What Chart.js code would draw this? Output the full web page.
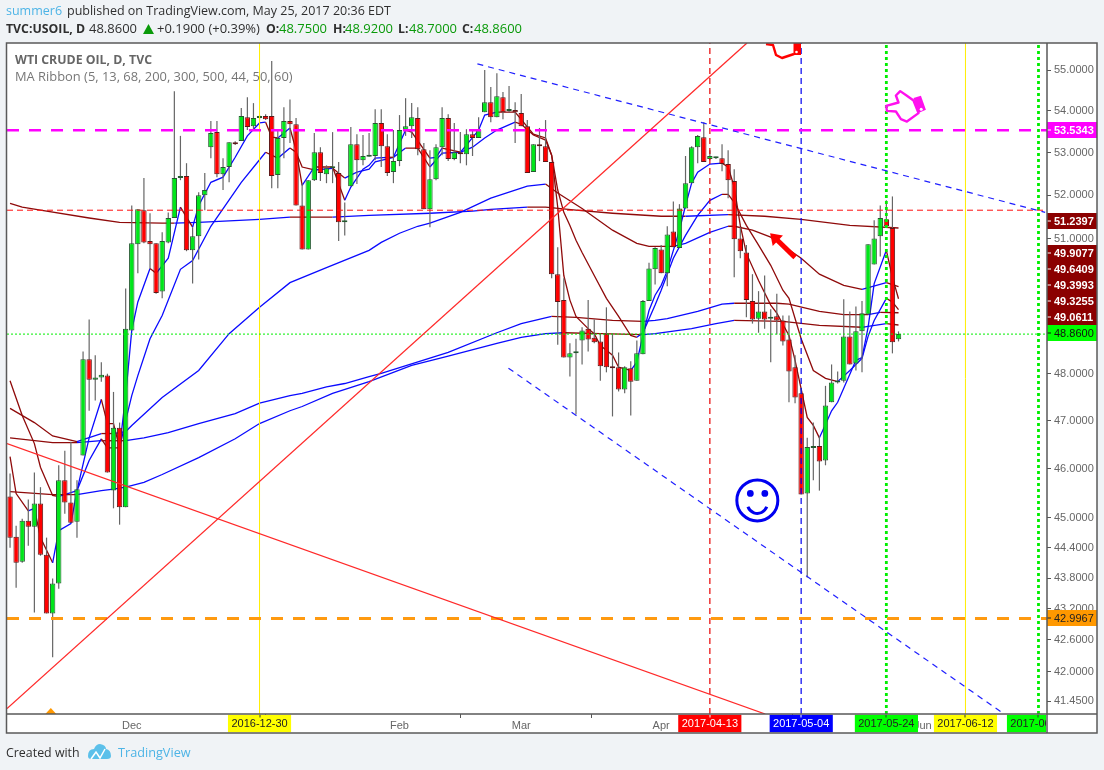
<!DOCTYPE html>
<html><head><meta charset="utf-8">
<style>html,body{margin:0;padding:0;background:#f0f3f6}canvas{display:block}</style>
<script src="https://cdn.jsdelivr.net/npm/chart.js@4"></script>
</head><body><canvas id="c" width="1104" height="770"></canvas>
<script>
// ---- OHLC ----
const opens=[45.43,44.62,44.12,44.94,44.82,45.29,44.26,43.11,43.69,45.76,45.31,44.92,46.27,48.31,47.87,47.92,47.96,45.55,46.85,45.21,48.94,50.87,51.65,50.94,50.89,49.80,50.91,51.47,52.40,52.45,50.73,51.05,52.00,53.13,53.49,52.49,52.66,53.25,53.28,53.85,53.63,53.83,53.88,53.88,52.47,53.35,53.76,53.68,51.76,50.75,52.35,53.01,52.49,52.63,52.52,51.37,52.21,53.20,52.82,52.90,52.92,53.71,53.15,52.54,52.80,53.54,53.63,53.83,53.08,51.67,52.37,53.13,53.83,52.85,53.01,52.96,53.44,53.35,53.97,54.21,53.85,54.33,54.00,54.02,53.95,53.63,52.54,53.20,53.15,52.78,50.19,49.61,48.35,48.44,48.72,48.98,48.78,48.70,48.87,48.14,48.14,47.66,48.12,47.85,48.42,49.59,50.30,50.75,50.21,51.16,50.78,51.69,52.28,53.13,53.37,52.85,52.87,52.87,52.73,52.33,51.00,50.68,49.59,49.20,49.36,49.20,49.25,49.16,48.74,48.14,47.58,45.49,46.43,46.47,46.17,47.39,47.81,47.85,48.81,48.22,48.92,49.29,50.41,51.05,51.44,51.24,48.75];
const highs=[45.90,44.84,44.98,45.37,45.92,45.62,44.60,43.79,46.07,46.37,46.56,45.76,48.48,49.18,48.40,48.25,48.00,47.61,46.96,49.87,51.76,51.67,52.40,51.58,50.89,51.14,51.60,54.48,53.40,52.75,51.26,52.07,52.52,53.76,53.76,52.87,53.25,53.27,54.07,54.33,54.19,53.90,53.92,55.22,53.54,54.09,54.28,53.83,52.28,52.35,53.47,53.13,52.70,53.49,52.78,51.83,53.61,53.44,53.42,53.47,54.04,54.04,53.44,53.54,53.90,54.31,54.19,54.09,53.23,53.06,53.20,54.09,53.92,53.71,53.49,53.56,53.54,53.85,55.00,54.58,54.92,54.46,54.61,54.21,54.41,53.78,53.20,53.59,53.78,52.78,50.80,50.10,48.66,48.76,49.01,49.61,49.18,48.87,49.45,48.87,48.46,48.16,48.27,48.72,49.61,50.45,50.80,50.85,51.28,51.85,51.79,52.92,53.15,53.42,53.73,53.06,52.90,53.20,53.06,52.61,51.26,50.85,50.19,49.81,50.16,49.41,49.75,49.27,49.27,48.40,47.70,46.64,46.96,46.68,47.74,48.20,48.05,49.63,49.36,49.47,49.59,50.87,51.42,51.76,51.88,51.97,48.92];
const lows=[44.40,43.61,44.10,44.44,43.13,44.24,43.11,42.27,43.59,45.08,44.90,44.60,46.27,47.21,47.43,47.83,45.92,45.19,44.86,45.21,48.94,50.21,50.89,50.32,49.75,49.65,50.89,51.47,52.35,50.71,49.98,50.52,51.65,52.87,52.42,52.12,52.30,53.18,53.28,53.54,53.54,53.80,53.78,52.16,52.16,52.87,53.23,51.76,50.75,50.75,52.33,52.33,52.28,52.28,50.94,51.07,52.21,52.26,52.70,52.90,52.82,52.66,52.45,52.28,52.68,53.40,53.35,52.94,51.67,51.26,52.35,52.94,52.80,52.82,52.75,52.70,52.92,53.35,53.97,53.73,53.85,53.80,53.97,53.23,53.63,52.52,52.54,52.80,52.78,50.10,48.63,48.35,47.94,47.13,48.20,48.48,48.66,47.85,48.03,47.09,47.62,47.58,47.11,47.85,48.42,49.59,49.96,50.21,49.92,50.80,50.78,51.69,52.28,52.75,52.78,52.82,52.85,52.56,51.93,50.12,50.55,49.23,49.09,48.89,48.98,48.25,48.85,48.61,47.39,47.37,45.47,43.81,45.76,45.55,46.07,47.39,47.79,47.81,48.20,48.07,48.03,49.29,50.41,50.59,51.28,48.44,48.70];
const closes=[44.60,44.10,44.94,44.82,45.29,44.26,43.11,43.69,45.76,45.31,44.90,45.58,48.31,47.87,47.92,47.98,45.92,46.85,45.21,48.98,50.89,51.67,50.91,50.87,49.77,50.94,51.47,52.40,52.45,50.73,51.05,52.00,52.12,53.47,52.49,52.66,53.25,53.20,53.88,53.61,53.83,53.88,53.80,52.45,53.35,53.76,53.68,51.76,50.75,52.35,53.01,52.52,52.63,52.66,51.37,51.40,53.20,52.82,52.92,52.92,53.71,53.15,52.52,52.80,53.54,53.63,53.85,53.08,51.67,52.37,53.13,53.83,52.85,53.01,52.96,53.44,53.35,53.54,54.21,53.85,54.36,53.97,54.02,53.97,53.63,52.52,53.20,53.15,52.78,50.19,49.57,48.35,48.44,48.48,48.94,48.74,48.68,48.16,48.14,48.12,47.66,48.14,47.83,48.44,49.59,50.32,50.78,50.21,51.09,50.80,51.69,52.28,53.13,53.40,52.78,52.92,52.89,52.73,52.35,50.98,50.71,49.61,49.18,49.36,49.18,49.22,49.16,48.70,48.05,47.49,45.47,46.45,46.47,46.15,47.32,47.81,47.83,48.81,48.20,48.92,49.32,50.87,51.00,51.47,51.28,48.68,48.86];

// ---- moving averages: bar index and value at the points read ----
const ma5Idx=[0,1,3,4,5,7,8,10,11,13,15,16,17,18,19,20,21,23,24,26,28,30,31,33,35,37,39,41,42,43,44,46,47,48,50,53,55,56,58,59,60,62,63,65,66,69,70,71,74,75,77,78,80,83,86,88,89,90,91,92,93,95,96,97,98,99,100,102,103,104,105,106,107,108,109,110,111,112,113,115,117,118,119,120,121,123,125,126,128,129,131,132,133,134,135,136,139,140,141,142,144,145,146];
const ma5Val=[46.25,45.49,45.14,45.19,44.60,44.10,44.74,44.88,45.55,46.64,47.45,46.94,46.94,46.43,47.53,48.94,49.57,50.32,50.21,50.55,51.72,51.26,51.76,52.30,52.42,52.89,53.40,53.71,53.73,53.37,53.35,53.59,53.06,52.23,52.66,52.66,51.88,52.19,52.61,52.70,52.87,52.89,52.89,53.54,53.49,52.87,52.89,53.11,53.01,53.18,53.54,53.90,53.97,53.97,53.44,53.35,52.94,51.72,50.16,49.61,49.25,48.98,48.87,48.61,48.51,48.40,48.14,48.07,48.25,48.83,49.38,49.72,49.94,50.27,50.73,51.19,51.76,52.28,52.54,52.73,52.75,52.66,52.19,51.30,50.66,50.05,49.50,49.32,48.83,48.29,47.07,46.90,46.64,46.92,47.21,47.39,48.29,48.35,49.01,49.98,50.73,50.12,49.64];
const ma13Idx=[0,2,4,5,7,8,11,13,15,16,17,18,19,20,21,23,25,28,30,33,38,42,44,46,47,48,50,53,55,57,59,60,63,65,67,69,71,74,76,78,80,83,84,86,88,89,90,91,92,93,94,96,98,100,102,103,104,106,107,109,111,113,115,117,118,119,121,123,125,127,128,130,132,134,136,138,140,141,142,144,145,146];
const ma13Val=[47.85,47.11,46.52,46.03,45.45,45.43,45.55,46.17,46.62,46.43,46.43,46.43,47.00,47.53,47.96,48.76,49.27,50.30,50.50,51.28,52.30,53.01,52.87,53.11,53.01,52.66,52.59,52.63,52.40,52.54,52.61,52.78,52.89,53.11,53.11,52.66,52.99,53.01,53.13,53.35,53.54,53.73,53.68,53.42,53.30,52.94,52.12,51.60,51.30,50.96,50.68,50.16,49.65,49.25,48.83,48.79,48.89,49.50,49.83,50.55,51.07,51.53,51.88,52.02,52.02,51.83,51.30,50.85,50.39,49.83,49.65,48.76,48.07,47.90,47.83,48.07,48.33,48.81,49.16,49.65,49.57,49.40];
const ma44Idx=[0,4,7,11,15,17,19,20,25,31,36,41,46,52,59,61,64,67,69,74,79,85,88,90,94,99,103,105,109,111,115,118,119,122,125,130,133,137,140,144,146];
const ma44Val=[47.26,46.96,46.68,46.56,46.73,46.73,46.77,46.90,47.49,48.07,48.87,49.45,50.00,50.34,50.73,50.91,51.12,51.28,51.35,51.60,51.93,52.21,52.26,52.05,51.69,51.19,50.89,50.82,50.82,50.89,51.14,51.28,51.28,51.19,51.03,50.55,50.19,49.94,49.85,50.00,49.91];
const ma68Idx=[0,2,5,13,18,25,27,31,41,46,53,59,69,76,79,85,88,93,99,107,111,118,124,130,138,146];
const ma68Val=[51.81,51.72,51.65,51.47,51.37,51.35,51.35,51.37,51.44,51.49,51.49,51.53,51.58,51.63,51.67,51.72,51.72,51.65,51.58,51.51,51.51,51.55,51.51,51.44,51.30,51.24];
const ma200Idx=[0,7,11,15,19,22,26,31,37,41,46,48,52,55,59,61,72,80,84,89,93,99,104,106,108,113,117,119,126,128,133,137,141,143,146];
const ma200Val=[46.64,46.54,46.54,46.58,46.58,46.64,46.75,46.94,47.15,47.37,47.53,47.58,47.72,47.79,47.94,48.01,48.46,48.89,49.09,49.25,49.23,49.16,49.14,49.16,49.20,49.36,49.52,49.54,49.54,49.52,49.36,49.29,49.29,49.34,49.33];
const ma300Idx=[0,7,11,15,17,19,22,25,31,37,41,46,48,53,59,66,72,80,84,88,91,97,104,106,112,116,119,127,133,140,141,144,146];
const ma300Val=[45.53,45.47,45.47,45.55,45.58,45.62,45.72,45.88,46.23,46.62,46.94,47.21,47.30,47.58,47.83,48.18,48.38,48.66,48.79,48.87,48.89,48.87,48.85,48.87,48.98,49.09,49.16,49.14,49.05,49.01,49.03,49.09,49.06];
const maNames=['5','13','44','68','200','300'];

// ---- drawings ----
const levelPrices=[53.5343,51.65,48.86,43.01];
const verticalIdx=[41,115,130,144,157,169];
const upTrendIdx=[-0.5,121.1], upTrendVal=[41.31,55.67];
const downTrendIdx=[-0.5,124.1], downTrendVal=[46.52,41.21];
const wedgeTopIdx=[76.8,170.1], wedgeTopVal=[55.15,51.60];
const wedgeLowIdx=[81.9,163.1], wedgeLowVal=[48.12,41.23];
const arrowIdx=[129,124.9], arrowVal=[50.57,51.12];

// ---- axes and labels ----
const yTicks=[55,54,53,52,51,50,49,48,47,46,45,44.4,43.8,43.2,42.6,42,41.45];
const xTickIdx=[20,64,84,107,150];
const xTickLabels=['Dec','Feb','Mar','Apr','Jun'];
const dateChipIdx=[41,115,130,144,157,169];
const dateChipLabels=['2016-12-30','2017-04-13','2017-05-04','2017-05-24','2017-06-12','2017-06-30'];
const priceChipVals=[53.5343,51.2397,49.9077,49.6409,49.3993,49.3255,49.0611,48.86,42.9967];

// ---- styles ----
const UI='"Open Sans",sans-serif', AX='"Liberation Sans",Arial,sans-serif';
const RISE='#0a0aff', FALL='#8f0a0a', UP='#00e61a', DOWN='#ff0000';
const dateChipStyle=[['#ffff00','#222'],['#ff0000','#fff'],['#0000ff','#fff'],['#00ff00','#222'],['#ffff00','#222'],['#00ff00','#222']];
const priceChipStyle=[['#ff00ff','#fff',130],['#8b0000','#fff',221],['#8b0000','#fff',253],['#8b0000','#fff',269],['#8b0000','#fff',285],['#8b0000','#fff',301],['#8b0000','#fff',317],['#00ff00','#111',333],['#ff9800','#222',618]];
const XMIN=-0.5,XMAX=170.4;

const barIdx=opens.map((_,i)=>i);
const pts=(xs,ys)=>xs.map((x,i)=>({x,y:ys[i]}));
const maDs=(xs,ys,i)=>({type:'line',label:'MA '+maNames[i],data:pts(xs,ys),borderWidth:1.3,pointRadius:0,tension:0,order:5,
  borderColor:RISE,segment:{borderColor:c=>c.p1.parsed.y>c.p0.parsed.y?RISE:FALL}});
const drawDs=(data,color,w,dash,label)=>({type:'line',label,data,borderColor:color,borderWidth:w,borderDash:dash,pointRadius:0,tension:0,order:1});

const datasets=[
 {type:'bar',label:'wick',data:barIdx.map(i=>({x:i,y:[lows[i],highs[i]]})),backgroundColor:'#666',barThickness:1.2,grouped:false,order:4,borderWidth:0,inflateAmount:0},
 {type:'bar',label:'body',data:barIdx.map(i=>({x:i,y:[opens[i],closes[i]]})),
  backgroundColor:barIdx.map(i=>closes[i]>=opens[i]?UP:DOWN),
  borderColor:barIdx.map(i=>closes[i]>=opens[i]?'#245a30':'#5e1818'),
  borderWidth:1,borderSkipped:false,barThickness:5.4,minBarLength:2,grouped:false,order:3,inflateAmount:0},
 maDs(ma5Idx,ma5Val,0),maDs(ma13Idx,ma13Val,1),maDs(ma44Idx,ma44Val,2),maDs(ma68Idx,ma68Val,3),maDs(ma200Idx,ma200Val,4),maDs(ma300Idx,ma300Val,5),
 drawDs(pts(upTrendIdx,upTrendVal),'#ff2a2a',1.3,[],'up'),
 drawDs(pts(downTrendIdx,downTrendVal),'#ff2a2a',1.3,[],'down'),
 drawDs(pts(wedgeTopIdx,wedgeTopVal),'#1f1fff',1.2,[6,5],'wedgeTop'),
 drawDs(pts(wedgeLowIdx,wedgeLowVal),'#1f1fff',1.2,[6,5],'wedgeLow'),
 drawDs([{x:XMIN,y:levelPrices[0]},{x:XMAX,y:levelPrices[0]}],'#ff00ff',2.5,[12,10],'level'),
 drawDs([{x:XMIN,y:levelPrices[1]},{x:XMAX,y:levelPrices[1]}],'#ff1010',1,[6,4],'level'),
 drawDs([{x:XMIN,y:levelPrices[2]},{x:XMAX,y:levelPrices[2]}],'#00ee00',1,[2,2],'level'),
 drawDs([{x:XMIN,y:levelPrices[3]},{x:XMAX,y:levelPrices[3]}],'#ff9a10',3,[12,10],'level'),
 drawDs([{x:verticalIdx[0],y:41.21},{x:verticalIdx[0],y:55.67}],'#ffee00',1,[],'v'),
 drawDs([{x:verticalIdx[1],y:41.21},{x:verticalIdx[1],y:55.67}],'#e80000',1.2,[6,4],'v'),
 drawDs([{x:verticalIdx[2],y:41.21},{x:verticalIdx[2],y:55.67}],'#0000f0',1.2,[6,4],'v'),
 drawDs([{x:verticalIdx[3],y:41.21},{x:verticalIdx[3],y:55.67}],'#00ee00',2.8,[3,3],'v'),
 drawDs([{x:verticalIdx[4],y:41.21},{x:verticalIdx[4],y:55.67}],'#ffee00',1,[],'v'),
 drawDs([{x:verticalIdx[5],y:41.21},{x:verticalIdx[5],y:55.67}],'#00ee00',2.8,[3,3],'v')
];

function hand(ctx,cx,cy,col){
  ctx.save();ctx.translate(cx,cy);ctx.strokeStyle=col;ctx.fillStyle=col;ctx.lineWidth=2.4;ctx.lineJoin='round';
  const P=[[-19,-1],[-6.7,-4.3],[-9.3,-11.3],[-5,-15.7],[1.7,-11],[8.3,-6.3],[13.3,6.3],[1.7,14.7],[-4.3,12.3],[-9.3,4.7],[-18.3,4]];
  ctx.beginPath();P.forEach((p,i)=>i?ctx.lineTo(p[0],p[1]):ctx.moveTo(p[0],p[1]));ctx.closePath();ctx.stroke();
  ctx.beginPath();[[8.3,-8.7],[15.7,-11],[20.7,3],[13.3,6.3]].forEach((p,i)=>i?ctx.lineTo(p[0],p[1]):ctx.moveTo(p[0],p[1]));ctx.closePath();ctx.fill();
  ctx.fillStyle='#fff';ctx.beginPath();ctx.arc(16,2.5,1.5,0,7);ctx.fill();ctx.restore();
}
function txt(ctx,s,x,y,font,col,al){ctx.font=font;ctx.fillStyle=col;ctx.textAlign=al||'left';ctx.textBaseline='middle';ctx.fillText(s,x,y);}

const page={id:'page',
 beforeDraw(ch){const c=ch.ctx;c.save();c.fillStyle='#f0f3f6';c.fillRect(0,0,1104,770);c.fillStyle='#fff';c.fillRect(6.5,43,1090.5,690);c.restore();},
 afterDatasetsDraw(ch){
  const c=ch.ctx,X=ch.scales.x,Y=ch.scales.y,a=ch.chartArea;
  c.save();c.beginPath();c.rect(a.left,a.top,a.right-a.left,a.bottom-a.top);c.clip();
  // red arrow
  const tx=X.getPixelForValue(arrowIdx[0]),ty=Y.getPixelForValue(arrowVal[0]),hx=X.getPixelForValue(arrowIdx[1]),hy=Y.getPixelForValue(arrowVal[1]);
  const ang=Math.atan2(hy-ty,hx-tx);
  c.strokeStyle='#ff0000';c.fillStyle='#ff0000';c.lineWidth=5;c.beginPath();c.moveTo(tx,ty);c.lineTo(hx-8*Math.cos(ang),hy-8*Math.sin(ang));c.stroke();
  c.beginPath();c.moveTo(hx,hy);c.lineTo(hx-13*Math.cos(ang-.6),hy-13*Math.sin(ang-.6));c.lineTo(hx-13*Math.cos(ang+.6),hy-13*Math.sin(ang+.6));c.closePath();c.fill();
  // smiley
  const sx=X.getPixelForValue(122.8),sy=Y.getPixelForValue(45.35);
  c.strokeStyle='#0000f0';c.fillStyle='#0000f0';c.lineWidth=3;c.beginPath();c.arc(sx,sy,20.5,0,7);c.stroke();
  c.beginPath();c.arc(sx-7,sy-7,3.4,0,7);c.arc(sx+7.5,sy-7,3.4,0,7);c.fill();
  c.beginPath();c.arc(sx,sy+3,10,.35,Math.PI-.35);c.stroke();
  // hands
  hand(c,X.getPixelForValue(147.1),Y.getPixelForValue(54.1),'#ff10ee');
  c.strokeStyle='#ff0000';c.lineWidth=2.4;c.lineJoin='round';c.beginPath();c.moveTo(766,44);c.lineTo(773,45);c.lineTo(776,55);c.lineTo(782,58);c.lineTo(794,54);c.stroke();
  c.fillStyle='#ff0000';c.fillRect(793.5,43,7.5,12);c.fillStyle='#fff';c.beginPath();c.arc(796.5,52,1.3,0,7);c.fill();
  // orange marker
  const mx=X.getPixelForValue(6.7),my=a.bottom;
  c.fillStyle='#ff9800';c.beginPath();c.moveTo(mx,my-6);c.lineTo(mx+5.5,my);c.lineTo(mx-5.5,my);c.closePath();c.fill();
  c.restore();
 },
 afterDraw(ch){
  const c=ch.ctx,X=ch.scales.x,a=ch.chartArea;c.save();
  // date chips
  dateChipIdx.forEach((v,i)=>{const x=X.getPixelForValue(v),w=63.5;let l=x-w/2,r=x+w/2;if(r>a.right)r=a.right-1;
    c.save();c.beginPath();c.rect(l,714.5,r-l,18);c.clip();c.fillStyle=dateChipStyle[i][0];c.fillRect(l,714.5,w,18);
    txt(c,dateChipLabels[i],x,724,'11px '+AX,dateChipStyle[i][1],'center');c.fillStyle=dateChipStyle[i][1]=='#fff'?'#fff':'#333';c.fillRect(Math.round(x)-.5,714.5,1,3);c.restore();});
  // price chips
  priceChipVals.forEach((v,i)=>{const [bg,fg,y]=priceChipStyle[i];c.fillStyle=bg;c.fillRect(1047,y-8,50,16);
    c.fillStyle=fg;c.fillRect(1047,y-.5,4,1);txt(c,v.toFixed(4),1054,y+.5,(fg=='#fff'?'bold ':'')+'11px '+AX,fg);});
  // frame
  c.strokeStyle='#5a5a5a';c.lineWidth=1.5;c.strokeRect(6.5,43,1090.5,690);
  c.beginPath();c.moveTo(1047,43);c.lineTo(1047,733);c.moveTo(6.5,714);c.lineTo(1097,714);c.stroke();
  // headers
  const L='12.5px '+UI,F='13px '+UI,B='bold 12.3px '+UI,D='#2f2f2f',G='#0a9a0a';
  txt(c,'summer6',6,11,L,'#4db4e6');txt(c,'published on TradingView.com, May 25, 2017 20:36 EDT',67,11,L,D);
  txt(c,'TVC:USOIL, D',6,29,B,D);txt(c,'48.8600',89,29,F,D);
  c.fillStyle='#0a9a0a';c.beginPath();c.moveTo(148.5,24);c.lineTo(154,34);c.lineTo(143,34);c.closePath();c.fill();
  txt(c,'+0.1900 (+0.39%)',157,29,F,D);
  [['O:','48.7500',266,279],['H:','48.9200',333,345],['L:','48.7000',398,409],['C:','48.8600',462,474]].forEach(p=>{txt(c,p[0],p[2],29,B,D);txt(c,p[1],p[3],29,F,G);});
  txt(c,'WTI CRUDE OIL, D, TVC',15,60,'bold 12.3px '+UI,'#666');
  txt(c,'MA Ribbon (5, 13, 68, 200, 300, 500, 44, 50, 60)',15,77,'12.9px '+UI,'#777');
  txt(c,'Created with',6,753,'12.4px '+UI,D);txt(c,'TradingView',118,753,'12.7px '+UI,'#4db4e6');
  // logo
  c.fillStyle='#5cc0ea';c.beginPath();c.moveTo(88,756);c.quadraticCurveTo(88,749,94,749);c.quadraticCurveTo(96,744,100,744);c.quadraticCurveTo(106,745,106,749);c.quadraticCurveTo(111,750,111,756);c.quadraticCurveTo(111,759,107,759);c.lineTo(91,759);c.quadraticCurveTo(88,759,88,756);c.fill();
  c.strokeStyle='#fff';c.lineWidth=1.5;c.beginPath();c.moveTo(91,759);c.lineTo(96,752);c.lineTo(100,758);c.lineTo(105,749);c.stroke();
  c.restore();
 }};

new Chart(document.getElementById('c'),{
 data:{datasets},
 plugins:[page],
 options:{responsive:false,animation:false,devicePixelRatio:1,
  layout:{padding:{left:7,top:43,right:0,bottom:0}},
  plugins:{legend:{display:false},tooltip:{enabled:false},title:{display:false}},
  scales:{
   x:{type:'linear',min:XMIN,max:XMAX,position:'bottom',offset:false,
      afterBuildTicks:s=>{s.ticks=xTickIdx.map(v=>({value:v}));},
      afterFit:s=>{s.height=56;},
      grid:{drawOnChartArea:false,drawTicks:true,tickLength:4,color:'#555'},border:{display:false},
      ticks:{autoSkip:false,maxRotation:0,padding:1,color:'#666',font:{size:11,family:AX},callback:v=>xTickLabels[xTickIdx.indexOf(v)]||''}},
   y:{type:'logarithmic',min:41.21,max:55.67,position:'right',
      afterBuildTicks:s=>{s.ticks=yTicks.map(v=>({value:v}));},
      afterFit:s=>{s.width=57;},
      grid:{drawOnChartArea:false,drawTicks:true,tickLength:4,color:'#555'},border:{display:false},
      ticks:{autoSkip:false,padding:3,color:'#666',font:{size:11,family:AX},callback:v=>Number(v).toFixed(4)}}
  }}
});
</script></body></html>
